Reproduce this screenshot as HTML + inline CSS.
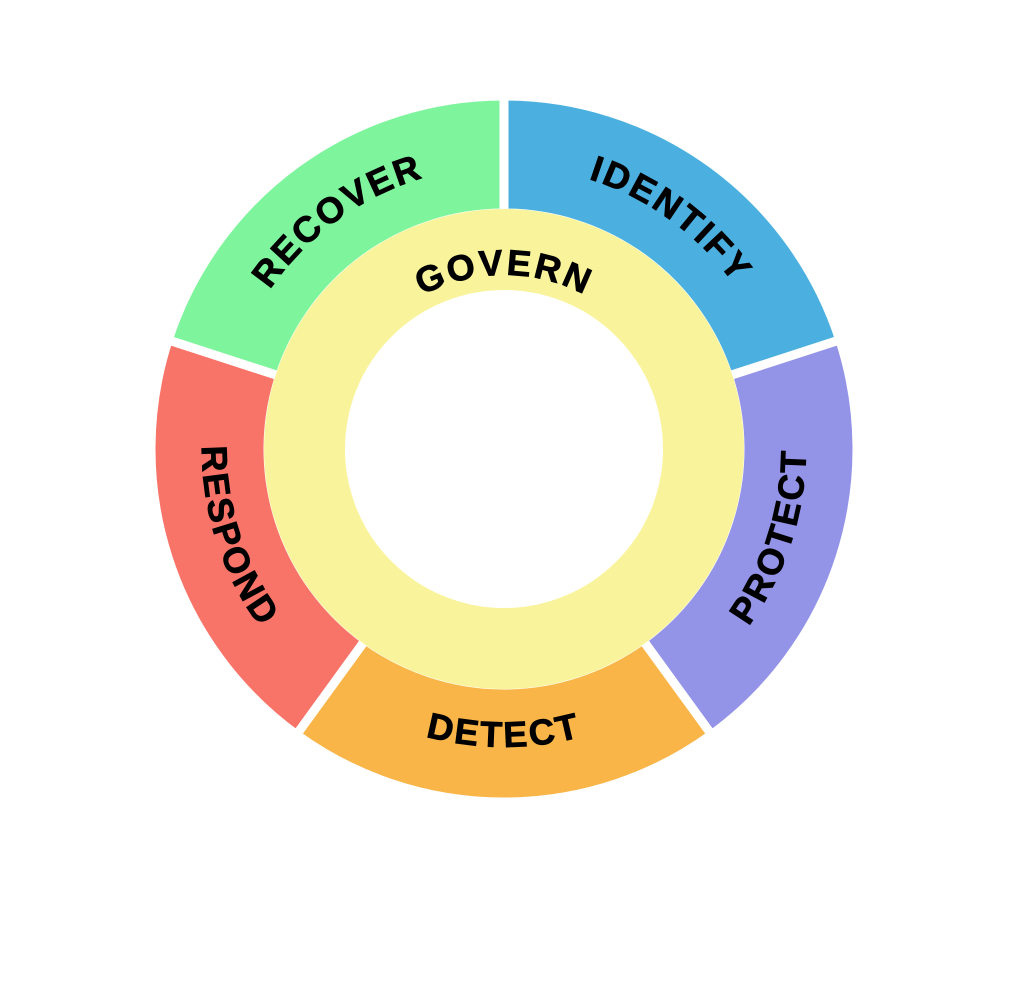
<!DOCTYPE html>
<html><head><meta charset="utf-8"><style>
html,body{margin:0;padding:0;background:#fff;width:1024px;height:987px;overflow:hidden}
text{font-family:"Liberation Sans",sans-serif;font-weight:bold;font-size:36px;letter-spacing:2.5px;fill:#000;stroke:#000;stroke-width:0.8px}
</style></head><body>
<svg width="1024" height="987" viewBox="0 0 1024 987" xmlns="http://www.w3.org/2000/svg">
<g id="segs" stroke="#fff" stroke-width="9" stroke-linejoin="miter"></g>
<circle cx="504" cy="449" r="240" fill="#f9f49c"/>
<circle cx="504" cy="449" r="159" fill="#fff"/>
<defs id="defs"></defs>
<g id="txt"></g>
</svg>
<script>
const cx=504,cy=449,R=353,r=236;
const P=(a,rad)=>[cx+rad*Math.sin(a*Math.PI/180),cy-rad*Math.cos(a*Math.PI/180)];
const segs=[[0,'#4bb0df'],[72,'#9393e8'],[144,'#f9b547'],[216,'#f87468'],[288,'#7ef59c']];
let s='';
for(const [a,c] of segs){const b=a+72;const p1=P(a,r),p2=P(a,R),p3=P(b,R),p4=P(b,r);
s+=`<path fill="${c}" d="M${p1} L${p2} A${R} ${R} 0 0 1 ${p3} L${p4} A${r} ${r} 0 0 0 ${p1}Z"/>`;}
document.getElementById('segs').innerHTML=s;
const labels=[['IDENTIFY',36,283,1],['PROTECT',108,302,0],['DETECT',180,298,0],['RESPOND',252,302,0],['RECOVER',324,283,1],['GOVERN',0,174,1]];
let d='',t='';
labels.forEach(([w,a,rad,cw],i)=>{let p1,p2;
if(cw){p1=P(a-80,rad);p2=P(a+80,rad);d+=`<path id="p${i}" d="M${p1} A${rad} ${rad} 0 0 1 ${p2}"/>`;}
else{p1=P(a+80,rad);p2=P(a-80,rad);d+=`<path id="p${i}" d="M${p1} A${rad} ${rad} 0 0 0 ${p2}"/>`;}
t+=`<text><textPath href="#p${i}" startOffset="50%" text-anchor="middle">${w}</textPath></text>`;});
document.getElementById('defs').innerHTML=d;
document.getElementById('txt').innerHTML=t;
</script>
</body></html>
